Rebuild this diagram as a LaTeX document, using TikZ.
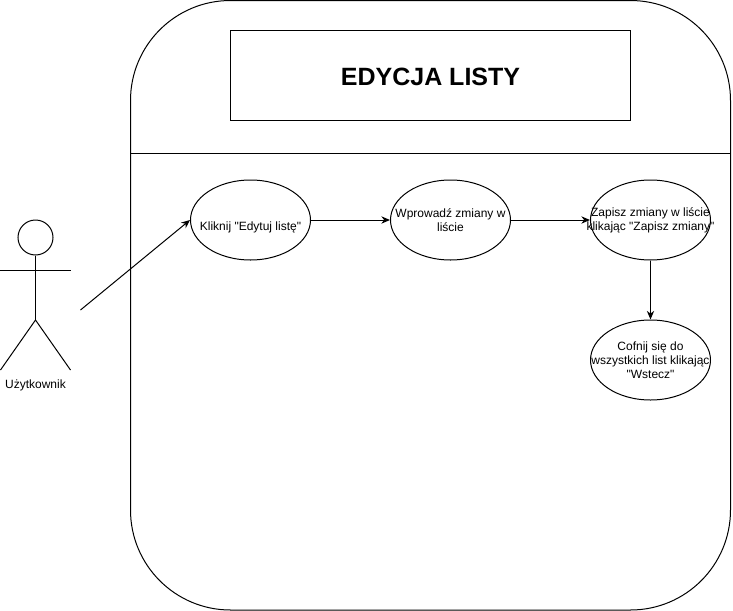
\documentclass[tikz,border=0pt]{standalone}
\usepackage{fontspec}
\newfontfamily\labelfont{Liberation Sans}
\usetikzlibrary{arrows.meta,shapes.geometric}
\tikzset{
  usecase/.style={draw,ellipse,minimum width=90pt,minimum height=60pt,inner xsep=-20pt,inner ysep=0pt,align=center,font=\labelfont\fontsize{9pt}{10.5pt}\selectfont,execute at begin node={\vspace*{2pt}}},
  flow/.style={-{Stealth[length=6.5pt,width=5.5pt]},line width=0.75pt}
}
\begin{document}
\begin{tikzpicture}[x=0.75pt,y=-0.75pt,line width=0.75pt]
    \useasboundingbox (0,0) rectangle (733,611);
    \draw[rounded corners=75pt] (130.5,0.5) rectangle (730.5,610);
    \draw (130.5,153) -- (730.5,153);
    \node[draw,minimum width=300pt,minimum height=67.5pt,inner sep=0pt,text height=16.4pt,text depth=0pt,font=\labelfont\bfseries\fontsize{18.75pt}{21pt}\selectfont] (title) at (430.5,75) {EDYCJA LISTY};
    \node[usecase,text height=15pt,text depth=0pt] (edit) at (250.5,220) {Kliknij "Edytuj listę"};
    \node[usecase] (change) at (450.5,220) {Wprowadź zmiany w\\liście};
    \node[usecase] (save) at (650.5,220) {Zapisz zmiany w liście\\klikając "Zapisz zmiany"};
    \node[usecase] (back) at (650.5,360) {Cofnij się do\\wszystkich list klikając\\"Wstecz"};
    % aktor
    \node[draw,circle,minimum size=26.25pt,inner sep=0pt] (head) at (35.5,237.5) {};
    \coordinate (hip) at (35.5,320);
    \coordinate (armL) at (0.5,270);
    \coordinate (armR) at (70.5,270);
    \coordinate (footL) at (0.5,370);
    \coordinate (footR) at (70.5,370);
    \draw (head) -- (hip);
    \draw (armL) -- (armR);
    \draw (footL) -- (hip) -- (footR);
    \node[font=\labelfont\fontsize{9pt}{10.5pt}\selectfont] (actor) at (35.5,385) {Użytkownik};
    \coordinate (start) at (80.5,310);
    \draw[flow] (start) -- (edit.west);
    \draw[flow] (edit) -- (change);
    \draw[flow] (change) -- (save);
    \draw[flow] (save) -- (back);
\end{tikzpicture}
\end{document}
